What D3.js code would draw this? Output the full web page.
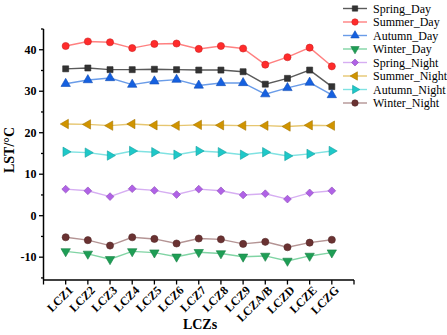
<!DOCTYPE html>
<html><head><meta charset="utf-8">
<script src="https://cdn.jsdelivr.net/npm/d3@7"></script>
<style>body{margin:0;background:#fff}svg{display:block}text{font-family:"Liberation Serif","Times New Roman",serif}</style>
</head><body>
<svg id="c" width="447" height="335"></svg>
<script>
const categories = ["LCZ1","LCZ2","LCZ3","LCZ4","LCZ5","LCZ6","LCZ7","LCZ8","LCZ9","LCZA/B","LCZD","LCZE","LCZG"];
const seriesNames = ["Spring_Day","Summer_Day","Autumn_Day","Winter_Day","Spring_Night","Summer_Night","Autumn_Night","Winter_Night"];
const springDay   = [35.4,35.6,35.2,35.2,35.3,35.2,35.1,35.1,34.7,31.7,33.1,35.1,31.1];
const summerDay   = [40.9,42.0,41.8,40.4,41.4,41.5,40.2,40.9,40.3,36.4,38.2,40.5,36.0];
const autumnDay   = [31.8,32.7,33.2,31.6,32.4,32.8,31.4,32.0,32.0,29.3,30.8,32.1,29.1];
const winterDay   = [-8.6,-9.2,-10.5,-8.6,-8.9,-9.9,-8.8,-9.1,-9.9,-9.7,-10.9,-9.7,-8.9];
const springNight = [6.4,6.0,4.6,6.5,6.1,5.1,6.4,6.0,5.0,5.3,4.0,5.5,6.0];
const summerNight = [22.1,22.0,21.7,22.1,21.8,21.7,21.9,21.8,21.7,21.7,21.5,21.8,21.7];
const autumnNight = [15.4,15.2,14.5,15.6,15.3,14.7,15.6,15.3,14.7,15.3,14.4,14.9,15.6];
const winterNight = [-5.2,-5.9,-7.2,-5.2,-5.6,-6.7,-5.5,-5.7,-6.8,-6.3,-7.6,-6.5,-5.8];
const yTicks = [-10,0,10,20,30,40];
const yMinorTicks = [-15,-5,5,15,25,35,45];

const seriesValues = [springDay,summerDay,autumnDay,winterDay,springNight,summerNight,autumnNight,winterNight];
const markerColors = ["#333333","#ff2b2b","#1560e0","#1e9e55","#b062e6","#d09400","#1ec8c8","#6a3232"];
const lineColors   = ["#5a5a5a","#ff8080","#6a9ce8","#80d4a4","#d6aef2","#e6c670","#80e2e2","#b49494"];
const shapes = [
  {t:d3.symbolSquare, r:0, s:36},
  {t:d3.symbolCircle, r:0, s:40},
  {t:d3.symbolTriangle, r:0, s:38},
  {t:d3.symbolTriangle, r:180, s:38},
  {t:d3.symbolSquare, r:45, s:30},
  {t:d3.symbolTriangle, r:-90, s:38},
  {t:d3.symbolTriangle, r:90, s:38},
  {t:d3.symbolCircle, r:0, s:40}
];

const svg = d3.select("#c");
const x = d3.scaleLinear().domain([-1, categories.length]).range([43.5, 354]);
const y = d3.scaleLinear().domain([-15.5, 45]).range([280, 29]);

// axes
const axisColor = "#000";
const yAxis = svg.append("g").attr("transform","translate(43.5,0)");
yAxis.append("line").attr("y1",y(45)).attr("y2",y(-15.5)).attr("stroke",axisColor).attr("stroke-width",1.5);
yAxis.selectAll(".maj").data(yTicks).join("line").attr("x1",-4.5).attr("x2",0).attr("y1",d=>y(d)).attr("y2",d=>y(d)).attr("stroke",axisColor).attr("stroke-width",1.3);
yAxis.selectAll(".min").data(yMinorTicks).join("line").attr("class","min").attr("x1",-2.5).attr("x2",0).attr("y1",d=>y(d)).attr("y2",d=>y(d)).attr("stroke",axisColor).attr("stroke-width",1.3);
yAxis.selectAll("text").data(yTicks).join("text").attr("x",-7).attr("y",d=>y(d)).attr("dy","0.35em").attr("text-anchor","end")
  .attr("font-size",12).attr("font-weight","bold").text(d=>d);

const xAxis = svg.append("g").attr("transform",`translate(0,${y(-15.5)})`);
xAxis.append("line").attr("x1",x(-1)).attr("x2",x(categories.length)).attr("stroke",axisColor).attr("stroke-width",1.5);
xAxis.selectAll("line.t").data(d3.range(-1, categories.length+1)).join("line").attr("class","t")
  .attr("x1",d=>x(d)).attr("x2",d=>x(d)).attr("y1",0).attr("y2",4.5).attr("stroke",axisColor).attr("stroke-width",1.3);
xAxis.selectAll("text").data(categories).join("text")
  .attr("transform",(d,i)=>`translate(${x(i)+5},${8}) rotate(-45)`)
  .attr("text-anchor","end").attr("dy","0.35em").attr("font-size",12).attr("font-weight","bold").text(d=>d);

svg.append("text").attr("x",200).attr("y",329).attr("text-anchor","middle").attr("font-size",14).attr("font-weight","bold").text("LCZs");
svg.append("text").attr("transform","translate(14,150) rotate(-90)").attr("text-anchor","middle").attr("font-size",14).attr("font-weight","bold").text("LST/°C");

// series
const line = d3.line().x((d,i)=>x(i)).y(d=>y(d));
seriesValues.forEach((vals,k)=>{
  svg.append("path").attr("d",line(vals)).attr("fill","none").attr("stroke",lineColors[k]).attr("stroke-width",1.4);
});
seriesValues.forEach((vals,k)=>{
  const sh = shapes[k];
  const sym = d3.symbol().type(sh.t).size(sh.s);
  svg.append("g").selectAll("path").data(vals).join("path")
    .attr("d",sym).attr("transform",(d,i)=>`translate(${x(i)},${y(d)}) rotate(${sh.r})`)
    .attr("fill",markerColors[k]).attr("stroke",d3.color(markerColors[k]).darker(0.6)).attr("stroke-width",0.6);
});

// legend
const lg = svg.append("g").attr("transform","translate(343,8.5)");
seriesNames.forEach((name,k)=>{
  const g = lg.append("g").attr("transform",`translate(0,${k*13.5})`);
  g.append("line").attr("x1",0).attr("x2",24).attr("stroke",lineColors[k]).attr("stroke-width",1.4);
  const sh = shapes[k];
  g.append("path").attr("d",d3.symbol().type(sh.t).size(sh.s*0.8)()).attr("transform",`translate(12,0) rotate(${sh.r})`)
    .attr("fill",markerColors[k]).attr("stroke",d3.color(markerColors[k]).darker(0.6)).attr("stroke-width",0.6);
  g.append("text").attr("x",30).attr("dy","0.35em").attr("font-size",12).text(name);
});
</script>
</body></html>
